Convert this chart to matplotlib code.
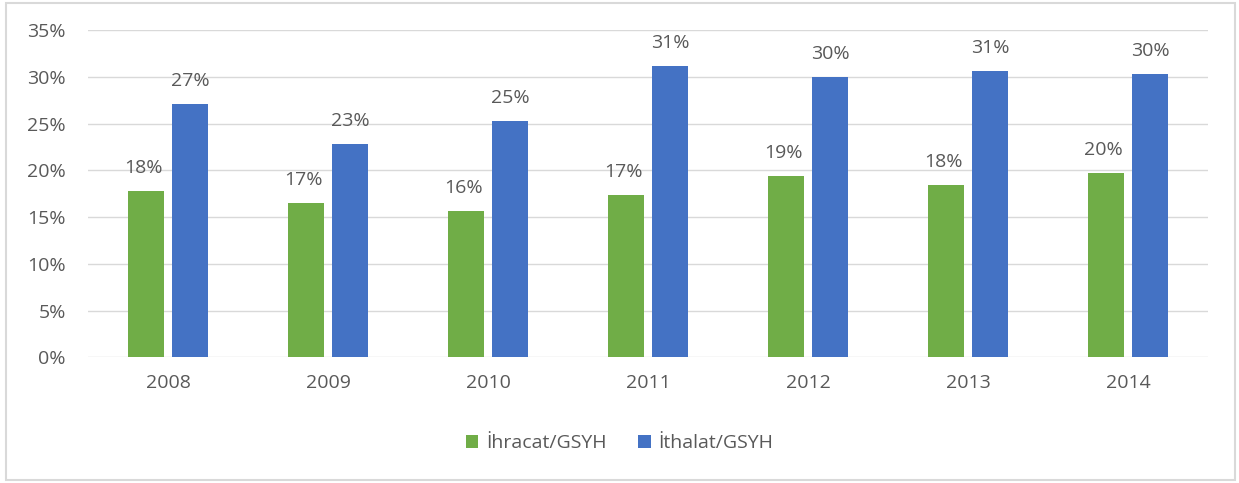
import numpy as np
import matplotlib.pyplot as plt
from matplotlib.patches import Rectangle

years = ["2008", "2009", "2010", "2011", "2012", "2013", "2014"]
ihracat = [17.8, 16.5, 15.6, 17.4, 19.4, 18.4, 19.7]
ithalat = [27.1, 22.8, 25.3, 31.1, 30.0, 30.6, 30.3]
labels_ihr = ["18%", "17%", "16%", "17%", "19%", "18%", "20%"]
labels_ith = ["27%", "23%", "25%", "31%", "30%", "31%", "30%"]

plt.rcParams['font.family'] = ['Open Sans', 'DejaVu Sans']
text_color = '#595959'
fs = 14

fig = plt.figure(figsize=(12.39, 4.83), dpi=100)
ax = fig.add_axes([0.071, 0.26, 0.904, 0.678])

x = np.arange(len(years))
bar_width = 0.225
green = '#70ad47'
blue = '#4472c4'

ax.bar(x - 0.14, ihracat, width=bar_width, color=green, label='İhracat/GSYH', zorder=3)
ax.bar(x + 0.14, ithalat, width=bar_width, color=blue, label='İthalat/GSYH', zorder=3)

# value labels above bars
for i in range(len(years)):
    ax.text(i - 0.155, ihracat[i] + 1.5, labels_ihr[i], ha='center', va='bottom',
            fontsize=fs, color=text_color)
    ax.text(i + 0.14, ithalat[i] + 1.5, labels_ith[i], ha='center', va='bottom',
            fontsize=fs, color=text_color)

ax.set_xlim(-0.5, len(years) - 0.5)
ax.set_ylim(0, 35)
ax.set_yticks(np.arange(0, 36, 5))
ax.set_yticklabels([f"{v}%" for v in range(0, 36, 5)])
ax.set_xticks(x)
ax.set_xticklabels(years)
ax.tick_params(axis='both', length=0, labelsize=fs, labelcolor=text_color)
ax.tick_params(axis='y', pad=16)
ax.tick_params(axis='x', pad=12)
ax.grid(axis='y', color='#d9d9d9', linewidth=1, zorder=0)
for s in ax.spines.values():
    s.set_visible(False)

leg = fig.legend(loc='center', bbox_to_anchor=(0.5, 0.082), ncol=2, frameon=False,
                 fontsize=fs, handlelength=0.65, handleheight=0.65, handletextpad=0.4,
                 columnspacing=1.6)
for t in leg.get_texts():
    t.set_color(text_color)

# outer chart border
fig.patches.append(Rectangle((6 / 1239, 3 / 483), 1229 / 1239, 477 / 483,
                             transform=fig.transFigure, fill=False,
                             edgecolor='#d9d9d9', linewidth=1.5))

fig.savefig('out.png', dpi=100)
